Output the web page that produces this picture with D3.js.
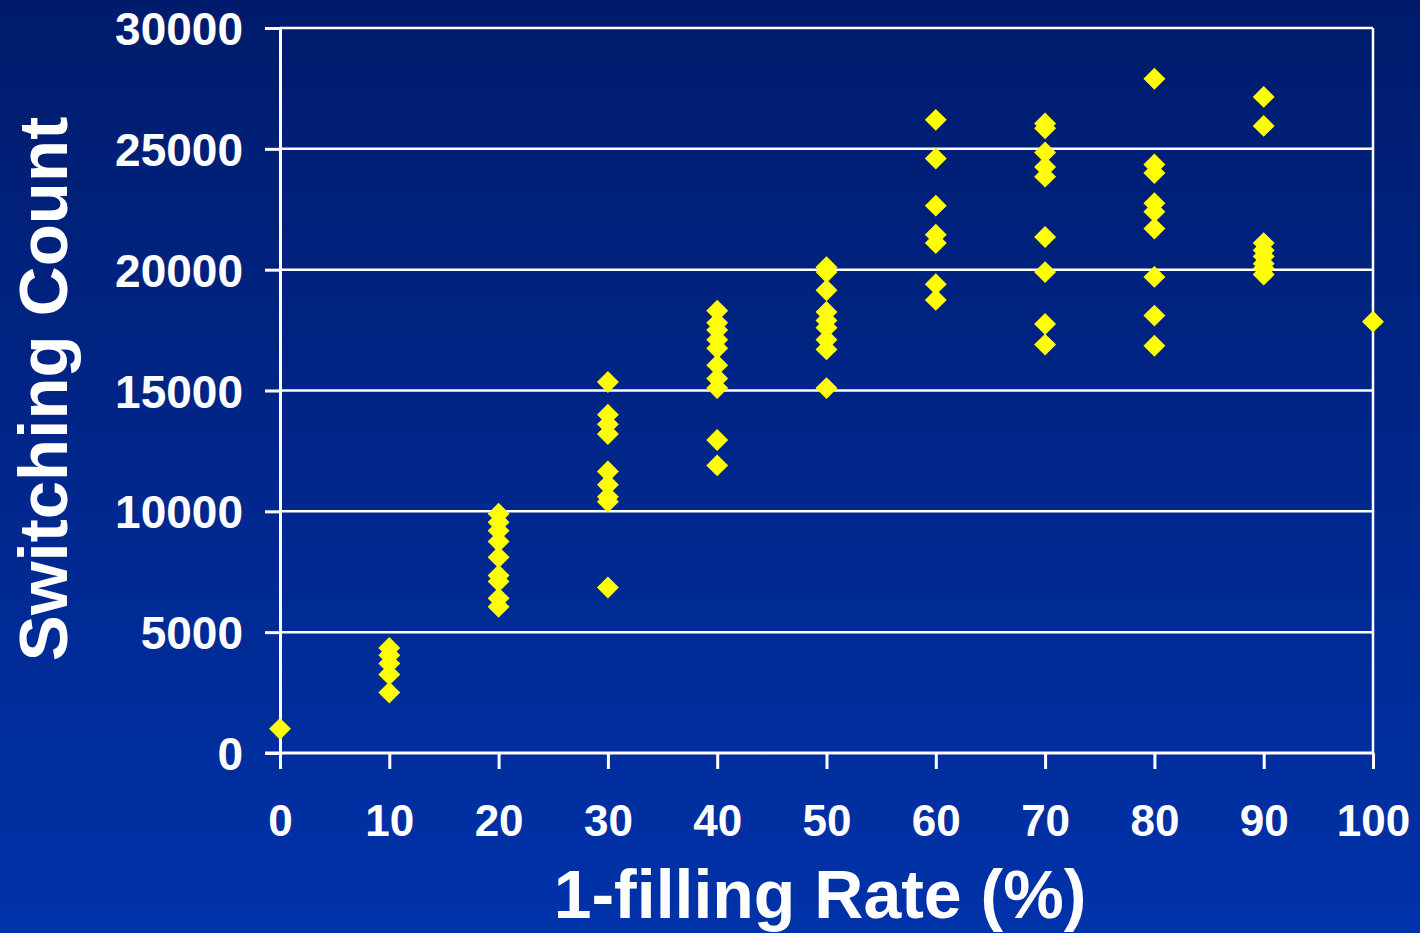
<!DOCTYPE html>
<html>
<head>
<meta charset='utf-8'>
<title>Switching Count</title>
<style>
  body {margin: 0; padding: 0; overflow: hidden}
  text {font-family: "Liberation Sans", Arial, sans-serif; font-weight: bold; fill: #ffffff}
  .grid line {stroke: #ffffff; stroke-width: 2.5px}
  .axis path, .axis line {stroke: #ffffff; stroke-width: 3px}
  .pt {fill: #ffff00}
</style>
</head>
<body>
<script src='https://d3js.org/d3.v7.min.js'></script>
<script>

var W = 1420, H = 933;

// fill rate (%) for each column of points
var rates = [0, 10, 20, 30, 40, 50, 60, 70, 80, 90, 100];

// switching counts, one list per rate
var counts0   = [1000];
var counts10  = [4350, 4050, 3700, 3250, 2500];
var counts20  = [9900, 9550, 9200, 8750, 8100, 7350, 7100, 6400, 6050];
var counts30  = [15350, 14000, 13600, 13200, 11650, 11100, 10600, 10400, 6850];
var counts40  = [18300, 17800, 17500, 17100, 16750, 16050, 15500, 15100, 12950, 11900];
var counts50  = [20100, 19900, 19150, 18250, 17900, 17600, 17100, 16700, 15100];
var counts60  = [26200, 24600, 22650, 21450, 21100, 19400, 18750];
var counts70  = [26050, 25850, 24850, 24250, 23850, 21350, 19900, 17750, 16900];
var counts80  = [27900, 24350, 24000, 22750, 22400, 21700, 19700, 18100, 16850];
var counts90  = [27150, 25950, 21100, 20800, 20550, 20250, 20050, 19800];
var counts100 = [17850];

var allCounts = [counts0, counts10, counts20, counts30, counts40, counts50,
                 counts60, counts70, counts80, counts90, counts100];

var yTicks = [0, 5000, 10000, 15000, 20000, 25000, 30000];
var xTicks = [0, 10, 20, 30, 40, 50, 60, 70, 80, 90, 100];

var points = [];
rates.forEach(function (r, i) {
  allCounts[i].forEach(function (c) { points.push({rate: r, count: c}); });
});

var svg = d3.select('body').append('svg').attr('width', W).attr('height', H);

var defs = svg.append('defs');
var grad = defs.append('linearGradient').attr('id', 'bg')
  .attr('x1', 0).attr('y1', 0).attr('x2', 0).attr('y2', 1);
grad.append('stop').attr('offset', '0%').attr('stop-color', '#001b6c');
grad.append('stop').attr('offset', '100%').attr('stop-color', '#0032a9');

svg.append('rect').attr('width', W).attr('height', H).attr('fill', 'url(#bg)');

var x = d3.scaleLinear().domain([0, 100]).range([280, 1373]);
var y = d3.scaleLinear().domain([0, 30000]).range([753, 28]);

// horizontal grid
svg.append('g').attr('class', 'grid')
  .selectAll('line').data(yTicks.slice(1)).enter().append('line')
  .attr('x1', x(0)).attr('x2', x(100))
  .attr('y1', function (d) { return y(d); })
  .attr('y2', function (d) { return y(d); });

// right border
svg.append('line')
  .attr('x1', x(100)).attr('x2', x(100)).attr('y1', y(0)).attr('y2', y(30000))
  .attr('stroke', '#ffffff').attr('stroke-width', 2.5);

var yAxis = svg.append('g').attr('class', 'axis')
  .attr('transform', 'translate(' + x(0) + ',0)')
  .call(d3.axisLeft(y).tickValues(yTicks).tickFormat(d3.format('d'))
    .tickSize(15).tickSizeOuter(0).tickPadding(22));
yAxis.selectAll('text').style('font-size', '46px').attr('dy', '0.36em');

var xAxis = svg.append('g').attr('class', 'axis')
  .attr('transform', 'translate(0,' + y(0) + ')')
  .call(d3.axisBottom(x).tickValues(xTicks).tickFormat(d3.format('d'))
    .tickSize(16).tickSizeOuter(0).tickPadding(36));
xAxis.selectAll('text').style('font-size', '44px');
xAxis.select('.domain').attr('d', 'M' + (x(0) - 15) + ',0H' + x(100));

// points
var diamond = d3.symbol().type(d3.symbolSquare).size(240);
svg.append('g').selectAll('path').data(points).enter().append('path')
  .attr('class', 'pt')
  .attr('d', diamond)
  .attr('transform', function (d) {
    return 'translate(' + x(d.rate) + ',' + y(d.count) + ') rotate(45)';
  });

svg.append('text')
  .attr('x', 820).attr('y', 918)
  .attr('text-anchor', 'middle')
  .style('font-size', '68px')
  .text('1-filling Rate (%)');

svg.append('text')
  .attr('transform', 'translate(67,389) rotate(-90)')
  .attr('text-anchor', 'middle')
  .style('font-size', '69px')
  .text('Switching Count');

</script>
</body>
</html>
